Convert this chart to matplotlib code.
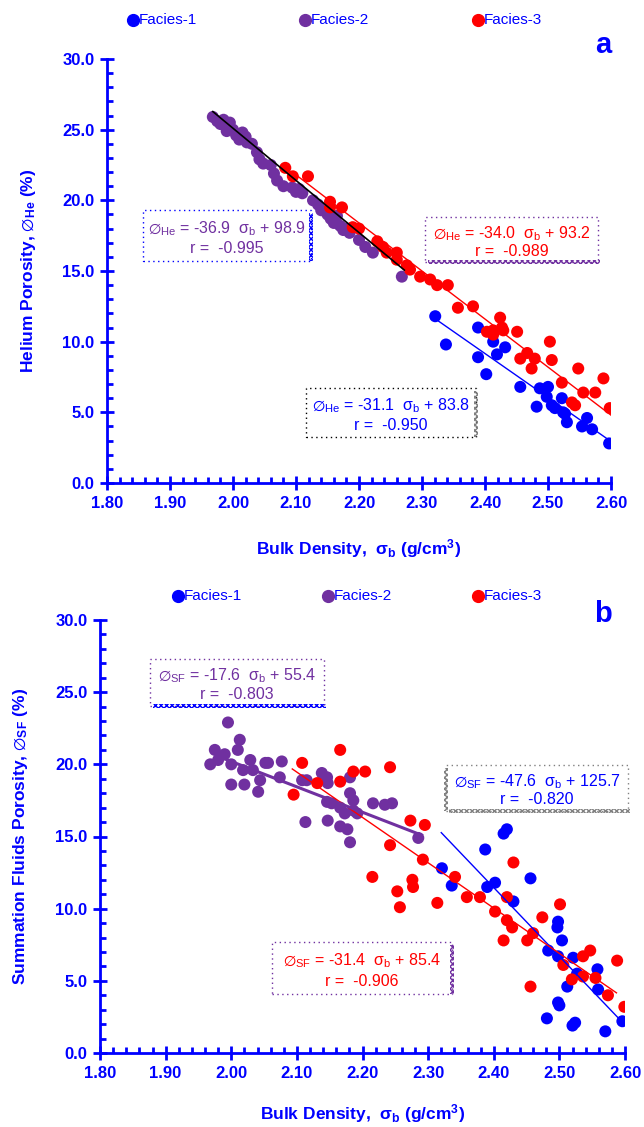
import matplotlib
matplotlib.use("Agg")
import matplotlib.pyplot as plt
from matplotlib.patches import Rectangle
from matplotlib.lines import Line2D
from matplotlib.ticker import MultipleLocator, FormatStrFormatter

plt.rcParams['font.family'] = ['Liberation Sans', 'DejaVu Sans']
plt.rcParams['mathtext.fontset'] = 'custom'
plt.rcParams['mathtext.rm'] = 'Liberation Sans'
plt.rcParams['mathtext.it'] = 'Liberation Sans:italic'
plt.rcParams['mathtext.bf'] = 'Liberation Sans:bold'
plt.rcParams['mathtext.sf'] = 'Liberation Sans'
plt.rcParams['mathtext.fallback'] = 'stixsans'

BLUE = '#0000FF'
PURPLE = '#7030A0'
RED = '#FF0000'

# ---------------- Panel a data (Bulk density vs Helium porosity) ----------------
a_f1_x = [2.321, 2.338, 2.389, 2.389, 2.402, 2.413, 2.419, 2.432, 2.456, 2.482, 2.487,
          2.500, 2.498, 2.506, 2.511, 2.522, 2.524, 2.530, 2.527, 2.554, 2.562, 2.570, 2.597]
a_f1_y = [11.8, 9.8, 11.0, 8.9, 7.7, 10.0, 9.1, 9.6, 6.8, 5.4, 6.7,
          6.8, 6.1, 5.5, 5.3, 6.0, 5.0, 4.3, 4.9, 4.0, 4.6, 3.8, 2.8]

a_f2_x = [1.968, 1.975, 1.980, 1.985, 1.990, 1.995, 2.000, 1.990, 2.005, 2.010, 2.015,
          2.020, 2.022, 2.030, 2.038, 2.042, 2.048, 2.060, 2.065, 2.070, 2.080, 2.094,
          2.100, 2.110, 2.105, 2.127, 2.135, 2.140, 2.150, 2.155, 2.160, 2.165, 2.170,
          2.175, 2.180, 2.185, 2.200, 2.210, 2.222, 2.268]
a_f2_y = [25.9, 25.6, 25.4, 25.7, 25.2, 25.5, 25.0, 24.9, 24.6, 24.3, 24.8,
          24.5, 24.1, 24.0, 23.4, 22.9, 22.6, 22.5, 21.9, 21.4, 21.0, 20.9,
          20.6, 20.5, 20.8, 20.0, 19.7, 19.3, 19.0, 18.7, 18.4, 18.9, 18.2,
          17.9, 18.0, 17.7, 17.2, 16.7, 16.3, 14.6]

a_f3_x = [2.083, 2.095, 2.119, 2.154, 2.154, 2.173, 2.190, 2.200, 2.229, 2.238, 2.244,
          2.260, 2.260, 2.276, 2.281, 2.297, 2.324, 2.313, 2.341, 2.357, 2.381, 2.403,
          2.413, 2.424, 2.427, 2.429, 2.413, 2.451, 2.467, 2.456, 2.479, 2.474, 2.503,
          2.506, 2.522, 2.538, 2.543, 2.548, 2.556, 2.575, 2.588, 2.598]
a_f3_y = [22.3, 21.7, 21.7, 19.9, 19.5, 19.5, 18.1, 18.0, 17.1, 16.7, 16.3,
          16.3, 15.8, 15.4, 15.1, 14.6, 14.0, 14.4, 14.0, 12.4, 12.5, 10.7,
          10.8, 11.7, 11.0, 10.8, 10.5, 10.7, 9.2, 8.8, 8.8, 8.1, 10.0,
          8.7, 7.1, 5.7, 5.5, 8.1, 6.4, 6.4, 7.4, 5.3]

# fitted lines panel a: (slope, intercept, x_start, x_end)
a_fit_f1 = (-31.1, 83.8, 2.322, 2.597)
a_fit_f2 = (-36.9, 98.9, 1.968, 2.272)
a_fit_f3 = (-34.0, 93.2, 2.100, 2.600)

# ---------------- Panel b data (Bulk density vs Summation fluids porosity) ----------------
b_f1_x = [2.321, 2.336, 2.387, 2.415, 2.420, 2.390, 2.402, 2.430, 2.456, 2.497, 2.498,
          2.504, 2.483, 2.498, 2.521, 2.527, 2.558, 2.559, 2.512, 2.498, 2.500, 2.481,
          2.524, 2.520, 2.570, 2.596]
b_f1_y = [12.8, 11.6, 14.1, 15.2, 15.5, 11.5, 11.8, 10.5, 12.1, 8.7, 9.1,
          7.8, 7.1, 6.7, 6.6, 5.5, 5.8, 4.4, 4.6, 3.5, 3.3, 2.4,
          2.1, 1.9, 1.5, 2.2]

b_f2_x = [1.968, 1.975, 1.980, 1.990, 2.000, 1.995, 2.013, 2.010, 2.018, 2.000, 2.020,
          2.029, 2.033, 2.044, 2.041, 2.052, 2.056, 2.077, 2.074, 2.108, 2.115, 2.113,
          2.138, 2.146, 2.147, 2.146, 2.153, 2.147, 2.166, 2.173, 2.181, 2.186, 2.181,
          2.186, 2.166, 2.177, 2.181, 2.192, 2.216, 2.234, 2.245, 2.285]
b_f2_y = [20.0, 21.0, 20.3, 20.7, 20.0, 22.9, 21.7, 21.0, 19.6, 18.6, 18.6,
          20.3, 19.6, 18.9, 18.1, 20.1, 20.1, 20.2, 19.1, 18.9, 18.9, 16.0,
          19.4, 19.1, 18.7, 17.4, 17.3, 16.1, 17.0, 16.6, 18.0, 17.5, 19.1,
          16.8, 15.7, 15.5, 14.6, 16.6, 17.3, 17.2, 17.3, 14.9]

b_f3_x = [2.166, 2.108, 2.095, 2.131, 2.166, 2.186, 2.204, 2.242, 2.273, 2.295, 2.242,
          2.292, 2.215, 2.276, 2.277, 2.253, 2.257, 2.314, 2.341, 2.359, 2.379, 2.402,
          2.420, 2.420, 2.428, 2.430, 2.415, 2.451, 2.460, 2.474, 2.501, 2.506, 2.456,
          2.519, 2.536, 2.547, 2.536, 2.555, 2.574, 2.588, 2.599]
b_f3_y = [21.0, 20.1, 17.9, 18.7, 18.8, 19.5, 19.5, 19.8, 16.1, 15.8, 14.4,
          13.4, 12.2, 12.0, 11.5, 11.2, 10.1, 10.4, 12.2, 10.8, 10.8, 9.8,
          10.8, 9.2, 8.7, 13.2, 7.8, 7.8, 8.3, 9.4, 10.3, 6.1, 4.6,
          5.1, 6.7, 7.1, 5.3, 5.2, 4.0, 6.4, 3.2]

b_fit_f1 = (-47.6, 125.7, 2.320, 2.589)
b_fit_f2 = (-17.6, 55.4, 1.980, 2.290)
b_fit_f3 = (-31.4, 85.4, 2.093, 2.587)

legend_labels = ['Facies-1', 'Facies-2', 'Facies-3']
facies_colors = [BLUE, PURPLE, RED]

x_ticks = [1.80, 1.90, 2.00, 2.10, 2.20, 2.30, 2.40, 2.50, 2.60]
y_ticks = [0.0, 5.0, 10.0, 15.0, 20.0, 25.0, 30.0]

W, H = 644, 1127
fig = plt.figure(figsize=(W / 100, H / 100), dpi=100)

PHI = '$\\varnothing$'


def axes_px(left, top, right, bottom):
    return fig.add_axes([left / W, 1 - bottom / H, (right - left) / W, (bottom - top) / H])


def style_axes(ax):
    ax.set_xlim(1.80, 2.60)
    ax.set_ylim(0, 30)
    for s in ['top', 'right']:
        ax.spines[s].set_visible(False)
    for s in ['left', 'bottom']:
        ax.spines[s].set_color(BLUE)
        ax.spines[s].set_linewidth(2.0)
    ax.set_xticks(x_ticks)
    ax.set_yticks(y_ticks)
    ax.xaxis.set_major_formatter(FormatStrFormatter('%.2f'))
    ax.yaxis.set_major_formatter(FormatStrFormatter('%.1f'))
    ax.xaxis.set_minor_locator(MultipleLocator(0.02))
    ax.yaxis.set_minor_locator(MultipleLocator(1.0))
    ax.tick_params(which='major', direction='inout', length=10, width=2, color=BLUE,
                   labelcolor=BLUE, labelsize=12, pad=4)
    ax.tick_params(which='minor', direction='in', length=4.5, width=2, color=BLUE)
    for lab in ax.get_xticklabels() + ax.get_yticklabels():
        lab.set_fontweight('bold')
    ax.patch.set_alpha(0)


def draw_fit(ax, fit, color, lw):
    m, b, x0, x1 = fit
    ax.plot([x0, x1], [m * x0 + b, m * x1 + b], color=color, lw=lw, zorder=4)


def px_rect(x0, y0, x1, y1, **kw):
    r = Rectangle((x0 / W, 1 - y1 / H), (x1 - x0) / W, (y1 - y0) / H,
                  transform=fig.transFigure, **kw)
    fig.add_artist(r)


def eq_box(x0, y0, x1, y1, line1, line2, tcolor, bcolor, scolor, shadow):
    px_rect(x0, y0, x1, y1, fill=False, edgecolor=bcolor, lw=1.0, linestyle=(0, (1, 2.5)))
    if 'right' in shadow:
        px_rect(x1 - 2, y0 + 3, x1 + 2, y1, fill=False, edgecolor=scolor, lw=0,
                hatch='xxxxxx')
    if 'bottom' in shadow:
        px_rect(x0 + 3, y1 - 2, x1 + 2, y1 + 2, fill=False, edgecolor=scolor, lw=0,
                hatch='xxxxxx')
    if 'left' in shadow:
        px_rect(x0 - 2, y0 + 3, x0 + 2, y1, fill=False, edgecolor=scolor, lw=0,
                hatch='xxxxxx')
    cx = (x0 + x1) / 2 / W
    fig.text(cx, 1 - (y0 + (y1 - y0) * 0.36) / H, line1, color=tcolor, fontsize=11.5,
             ha='center', va='center')
    fig.text(cx, 1 - (y0 + (y1 - y0) * 0.76) / H, line2, color=tcolor, fontsize=11.5,
             ha='center', va='center')


def legend_row(xs, y):
    for xm, lab, c in zip(xs, legend_labels, facies_colors):
        fig.add_artist(Line2D([xm / W], [1 - y / H], marker='o', ms=8.5, color=c,
                              mec=c, transform=fig.transFigure))
        fig.text((xm + 6) / W, 1 - y / H, lab, color=BLUE, fontsize=11,
                 ha='left', va='center')


MS = 75

# ---------------- Panel a ----------------
ax1 = axes_px(107, 59, 611, 483)
style_axes(ax1)
ax1.scatter(a_f1_x, a_f1_y, s=MS, color=BLUE, edgecolors='none', zorder=3)
ax1.scatter(a_f2_x, a_f2_y, s=MS, color=PURPLE, edgecolors='none', zorder=3)
ax1.scatter(a_f3_x, a_f3_y, s=MS, color=RED, edgecolors='none', zorder=3)
draw_fit(ax1, a_fit_f1, BLUE, 1.0)
draw_fit(ax1, a_fit_f3, RED, 1.0)
draw_fit(ax1, a_fit_f2, 'black', 1.2)
ax1.set_xlabel('Bulk Density,  σ$_{\\mathbf{b}}$ (g/cm$^{\\mathbf{3}}$)', color=BLUE,
               fontsize=12.5, fontweight='bold')
ax1.set_ylabel('Helium Porosity, ' + PHI + '$_{\\mathbf{He}}$ (%)', color=BLUE,
               fontsize=12.5, fontweight='bold')
ax1.yaxis.set_label_coords(-0.137, 0.5)
ax1.xaxis.set_label_coords(0.5, -0.127)

legend_row([133, 305, 478], 20)
fig.text(603 / W, 1 - 45 / H, 'a', color=BLUE, fontsize=21, fontweight='bold',
         ha='center', va='center')

eq_box(143, 210, 311, 261, PHI + '$_{\\rm He}$ = -36.9  σ$_{\\rm b}$ + 98.9', 'r =  -0.995',
       PURPLE, BLUE, BLUE, ['right'])
eq_box(425, 217, 598, 262, PHI + '$_{\\rm He}$ = -34.0  σ$_{\\rm b}$ + 93.2', 'r =  -0.989',
       RED, PURPLE, PURPLE, ['bottom'])
eq_box(306, 388, 476, 437, PHI + '$_{\\rm He}$ = -31.1  σ$_{\\rm b}$ + 83.8', 'r =  -0.950',
       BLUE, 'black', 'gray', ['right'])

# ---------------- Panel b ----------------
ax2 = axes_px(100, 620, 625, 1053)
style_axes(ax2)
ax2.scatter(b_f1_x, b_f1_y, s=MS, color=BLUE, edgecolors='none', zorder=3)
ax2.scatter(b_f2_x, b_f2_y, s=MS, color=PURPLE, edgecolors='none', zorder=3)
ax2.scatter(b_f3_x, b_f3_y, s=MS, color=RED, edgecolors='none', zorder=3)
draw_fit(ax2, b_fit_f1, BLUE, 1.0)
draw_fit(ax2, b_fit_f3, RED, 1.0)
draw_fit(ax2, b_fit_f2, PURPLE, 2.2)
ax2.set_xlabel('Bulk Density,  σ$_{\\mathbf{b}}$ (g/cm$^{\\mathbf{3}}$)', color=BLUE,
               fontsize=12.5, fontweight='bold')
ax2.set_ylabel('Summation Fluids Porosity, ' + PHI + '$_{\\mathbf{SF}}$ (%)', color=BLUE,
               fontsize=12.5, fontweight='bold')
ax2.yaxis.set_label_coords(-0.133, 0.5)
ax2.xaxis.set_label_coords(0.5, -0.113)

legend_row([178, 328, 478], 596)
fig.text(603 / W, 1 - 614 / H, 'b', color=BLUE, fontsize=21, fontweight='bold',
         ha='center', va='center')

eq_box(150, 659, 324, 706, PHI + '$_{\\rm SF}$ = -17.6  σ$_{\\rm b}$ + 55.4', 'r =  -0.803',
       PURPLE, PURPLE, BLUE, ['bottom'])
eq_box(446, 765, 628, 811, PHI + '$_{\\rm SF}$ = -47.6  σ$_{\\rm b}$ + 125.7', 'r =  -0.820',
       BLUE, 'gray', 'gray', ['left', 'bottom'])
eq_box(272, 942, 452, 994, PHI + '$_{\\rm SF}$ = -31.4  σ$_{\\rm b}$ + 85.4', 'r =  -0.906',
       RED, PURPLE, PURPLE, ['right'])

fig.savefig('out.png', dpi=100)
